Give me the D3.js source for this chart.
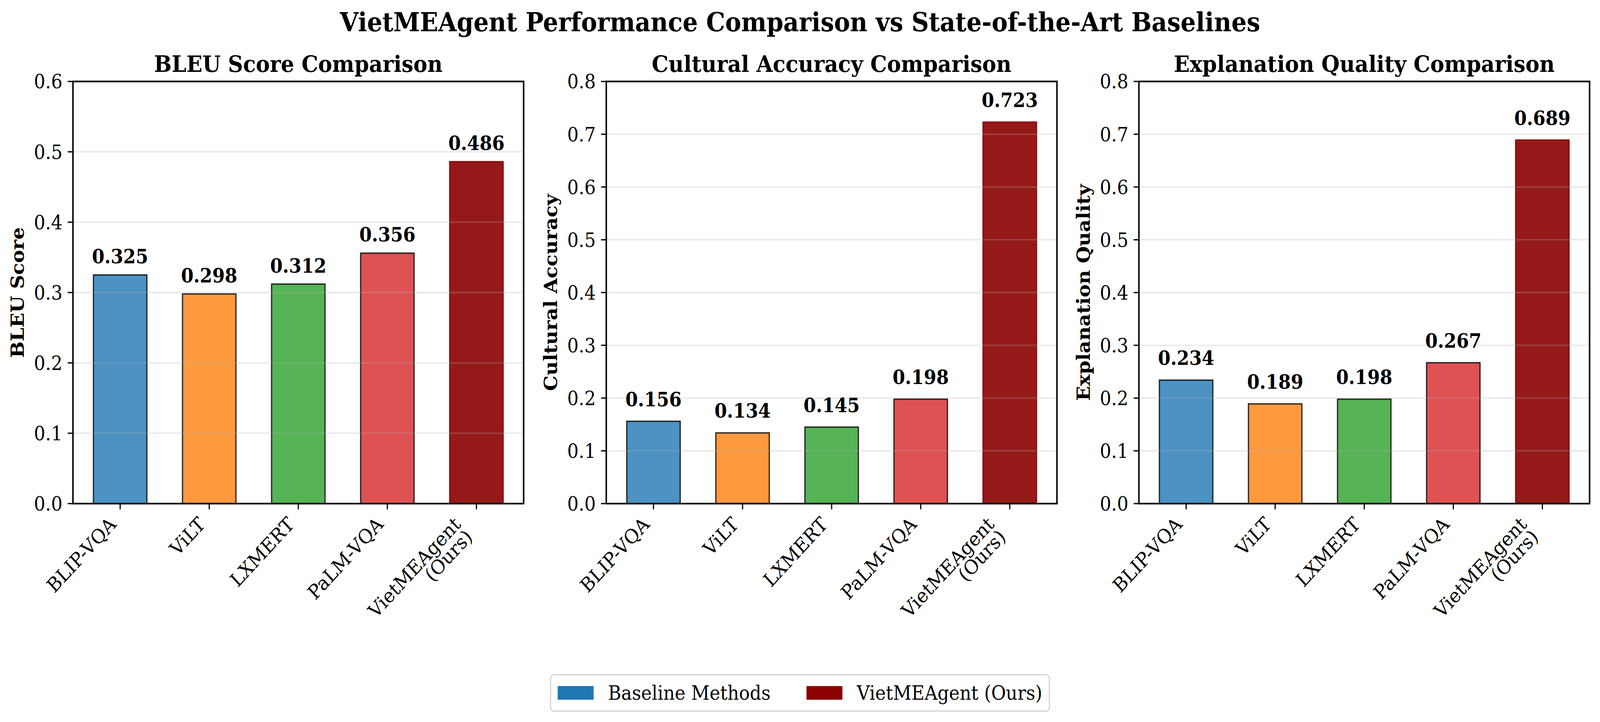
<!DOCTYPE html>
<html>
<head>
<meta charset="utf-8">
<script src="https://cdn.jsdelivr.net/npm/d3@7"></script>
<style>
  html, body { margin: 0; padding: 0; background: #fff; overflow: hidden; }
  svg { display: block; width: 100vw; height: 100vh; }
  text { font-family: "DejaVu Serif", serif; fill: #000; }
</style>
</head>
<body>
<div id="chart"></div>
<script>
// Data
var models = ["BLIP-VQA", "ViLT", "LXMERT", "PaLM-VQA", "VietMEAgent\n(Ours)"];
var bleuScores = [0.325, 0.298, 0.312, 0.356, 0.486];
var culturalAccuracy = [0.156, 0.134, 0.145, 0.198, 0.723];
var explanationQuality = [0.234, 0.189, 0.198, 0.267, 0.689];

var panelTitles = ["BLEU Score Comparison", "Cultural Accuracy Comparison", "Explanation Quality Comparison"];
var yLabels = ["BLEU Score", "Cultural Accuracy", "Explanation Quality"];
var yLimits = [0.6, 0.8, 0.8];
var yTicks = [
    [0.0, 0.1, 0.2, 0.3, 0.4, 0.5, 0.6],
    [0.0, 0.1, 0.2, 0.3, 0.4, 0.5, 0.6, 0.7, 0.8],
    [0.0, 0.1, 0.2, 0.3, 0.4, 0.5, 0.6, 0.7, 0.8]
];
var labelOffsets = [0.01, 0.02, 0.02];

var barColors = ["#1f77b4", "#ff7f0e", "#2ca02c", "#d62728", "#8b0000"];
var legendLabels = ["Baseline Methods", "VietMEAgent (Ours)"];
var legendColors = ["#1f77b4", "#8b0000"];
var mainTitle = "VietMEAgent Performance Comparison vs State-of-the-Art Baselines";

var panelValues = [bleuScores, culturalAccuracy, explanationQuality];

// Figure size and layout (pixels at 300 dpi)
const width = 4452;
const height = 1848;
var pt = 300 / 72;
var fs = 12 * pt;               // tick / label font size
var axLefts = [203, 1687, 3169];
var axWidth = 1254;
var axTop = 208.5;
var axBottom = 1289;
var spineW = 4.2;

// viewBox so the drawing always fills the window
var svg = d3.select("#chart")
    .append("svg")
    .attr("viewBox", "0 0 " + width + " " + height)
    .attr("preserveAspectRatio", "none")
    .style("background-color", "white");

// Figure title
svg.append("text")
    .attr("x", width / 2)
    .attr("y", 80)
    .attr("text-anchor", "middle")
    .style("font-size", (16 * pt) + "px")
    .style("font-weight", "bold")
    .text(mainTitle);

var drawPanel = function(p) {
    var values = panelValues[p];
    var left = axLefts[p];
    var right = left + axWidth;

    var x = d3.scaleLinear()
        .domain([-0.53, models.length - 1 + 0.53])
        .range([left, right]);
    var y = d3.scaleLinear()
        .domain([0, yLimits[p]])
        .range([axBottom, axTop]);

    var g = svg.append("g");

    // Bars
    var barW = x(0.6) - x(0);
    g.selectAll("rect.bar")
        .data(values)
        .enter().append("rect")
        .attr("class", "bar")
        .attr("x", (d, i) => x(i) - barW / 2)
        .attr("y", d => y(d))
        .attr("width", barW)
        .attr("height", d => y(0) - y(d))
        .attr("fill", (d, i) => barColors[i])
        .attr("fill-opacity", (d, i) => i === values.length - 1 ? 0.9 : 0.8)
        .attr("stroke", (d, i) => i === values.length - 1 ? "#8b0000" : "#000")
        .attr("stroke-opacity", (d, i) => i === values.length - 1 ? 0.9 : 0.8)
        .attr("stroke-width", 3.5);

    // Grid lines (drawn over the bars, as in the reference)
    g.selectAll("line.grid")
        .data(yTicks[p])
        .enter().append("line")
        .attr("x1", left).attr("x2", right)
        .attr("y1", d => y(d)).attr("y2", d => y(d))
        .attr("stroke", "#b0b0b0")
        .attr("stroke-opacity", 0.3)
        .attr("stroke-width", 3.3);

    // Value labels
    g.selectAll("text.value")
        .data(values)
        .enter().append("text")
        .attr("x", (d, i) => x(i))
        .attr("y", d => y(d + labelOffsets[p]) - 0.232 * fs)
        .attr("text-anchor", "middle")
        .style("font-size", fs + "px")
        .style("font-weight", "bold")
        .text(d => d3.format(".3f")(d));

    // Y ticks and labels
    var yt = g.selectAll("g.ytick")
        .data(yTicks[p])
        .enter().append("g");
    yt.append("line")
        .attr("x1", left - 14.6).attr("x2", left)
        .attr("y1", d => y(d)).attr("y2", d => y(d))
        .attr("stroke", "#000").attr("stroke-width", 3.3);
    yt.append("text")
        .attr("x", left - 29.2)
        .attr("y", d => y(d) + 0.36 * fs)
        .attr("text-anchor", "end")
        .style("font-size", fs + "px")
        .text(d => d3.format(".1f")(d));

    // X ticks and rotated labels
    var a = 0.76 * fs, dsc = 0.232 * fs, lineGap = 1.2 * a;
    var c = Math.SQRT1_2;
    var labelTop = axBottom + 14.6 + 14.6;
    models.forEach(function(m, i) {
        var tx = x(i);
        g.append("line")
            .attr("x1", tx).attr("x2", tx)
            .attr("y1", axBottom).attr("y2", axBottom + 14.6)
            .attr("stroke", "#000").attr("stroke-width", 3.3);
        var lines = m.split("\n");
        var px = tx - c * ((lines.length - 1) * lineGap + dsc);
        var py = labelTop + c * a;
        lines.forEach(function(line, k) {
            var lx = px + k * lineGap * c;
            var ly = py + k * lineGap * c;
            g.append("text")
                .attr("transform", "translate(" + lx + "," + ly + ") rotate(-45)")
                .attr("text-anchor", "end")
                .style("font-size", fs + "px")
                .text(line);
        });
    });

    // Axis label
    g.append("text")
        .attr("transform", "translate(" + (left - 137) + "," + ((axTop + axBottom) / 2) + ") rotate(-90)")
        .attr("text-anchor", "middle")
        .style("font-size", fs + "px")
        .style("font-weight", "bold")
        .text(yLabels[p]);

    // Panel title
    g.append("text")
        .attr("x", (left + right) / 2)
        .attr("y", 184)
        .attr("text-anchor", "middle")
        .style("font-size", (14 * pt) + "px")
        .style("font-weight", "bold")
        .text(panelTitles[p]);

    // Spines
    g.append("rect")
        .attr("x", left).attr("y", axTop)
        .attr("width", right - left).attr("height", axBottom - axTop)
        .attr("fill", "none")
        .attr("stroke", "#000")
        .attr("stroke-width", spineW);
};

d3.range(3).forEach(drawPanel);

// Legend at the bottom centre
var legend = svg.append("g");
var handleW = 2.0 * fs, handleH = 0.7 * fs, textPad = 0.8 * fs, colGap = 2.0 * fs, border = 0.4 * fs;
var legendY = 1727, legendH = 93;
var items = legend.selectAll("g.item")
    .data(legendLabels)
    .enter().append("g");
var texts = items.append("text")
    .style("font-size", fs + "px")
    .text(d => d);
var textW = [];
texts.each(function() { textW.push(this.getComputedTextLength()); });
var totalW = 2 * border + legendLabels.length * (handleW + textPad) + d3.sum(textW) + colGap * (legendLabels.length - 1);
var legendX = width / 2 - totalW / 2;

legend.insert("rect", ":first-child")
    .attr("x", legendX).attr("y", legendY)
    .attr("width", totalW).attr("height", legendH)
    .attr("rx", 10).attr("ry", 10)
    .attr("fill", "white")
    .attr("stroke", "#d6d6d6")
    .attr("stroke-width", 3.5);

var cursor = legendX + border;
legendLabels.forEach(function(lbl, i) {
    legend.append("rect")
        .attr("x", cursor)
        .attr("y", legendY + legendH / 2 - handleH / 2)
        .attr("width", handleW)
        .attr("height", handleH)
        .attr("fill", legendColors[i]);
    d3.select(texts.nodes()[i])
        .attr("x", cursor + handleW + textPad)
        .attr("y", legendY + legendH / 2 + 0.36 * fs);
    cursor += handleW + textPad + textW[i] + colGap;
});
</script>
</body>
</html>
